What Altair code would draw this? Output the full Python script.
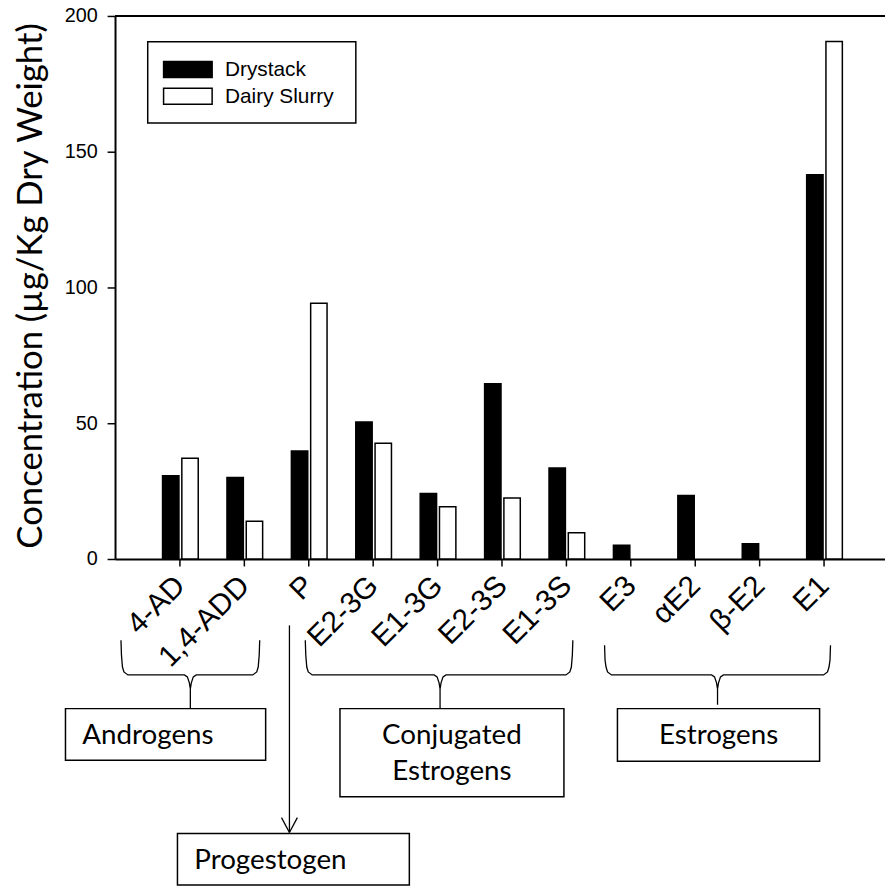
import altair as alt
import pandas as pd

# ---------------- data ----------------
categories = ["4-AD", "1,4-ADD", "P", "E2-3G", "E1-3G", "E2-3S", "E1-3S",
              "E3", "αE2", "β-E2", "E1"]
series = ["Drystack", "Dairy Slurry"]
drystack = [30.7, 30.0, 39.8, 50.5, 24.1, 64.5, 33.5, 5.1, 23.4, 5.6, 141.5]
dairy_slurry = [37.1, 13.9, 94.2, 42.6, 19.2, 22.5, 9.7, 0, 0, 0, 190.6]
y_ticks = [0, 50, 100, 150, 200]
y_title = "Concentration (µg/Kg Dry Weight)"
group_labels = ["Androgens", "Conjugated", "Estrogens", "Estrogens", "Progestogen"]

rows = []
for i, c in enumerate(categories):
    rows.append({"cat": c, "series": series[0], "value": drystack[i]})
    rows.append({"cat": c, "series": series[1], "value": dairy_slurry[i]})
df = pd.DataFrame(rows)

W, H = 777, 548
color_scale = alt.Scale(domain=series, range=["#000000", "#ffffff"])

bars = alt.Chart(df).transform_filter("datum.value > 0").mark_bar(
    stroke="black", strokeWidth=1.5).encode(
    x=alt.X("cat:N", sort=categories,
            scale=alt.Scale(paddingInner=0.446, paddingOuter=0.7, align=0.527),
            axis=alt.Axis(title=None, labelAngle=-45, labelAlign="right",
                          labelBaseline="middle", labelFont="Liberation Sans",
                          labelFontSize=30, labelColor="black", labelPadding=15,
                          labelOverlap=False, labelBound=False,
                          tickSize=7, tickColor="black", tickWidth=1.5,
                          domainColor="black", domainWidth=2)),
    xOffset=alt.XOffset("series:N", sort=series, scale=alt.Scale(paddingInner=0.15)),
    y=alt.Y("value:Q", scale=alt.Scale(domain=[0, 200], nice=False),
            axis=alt.Axis(values=y_ticks, title=y_title, titleFont="Lato",
                          titleFontSize=35, titleFontWeight="normal", titleColor="black",
                          titleAngle=270, titleX=-74, titleY=272, titleAlign="center",
                          titleBaseline="alphabetic",
                          labelFont="Liberation Sans", labelFontSize=20, labelColor="black",
                          labelPadding=10, tickSize=8, tickWidth=1.5, tickColor="black",
                          domainColor="black", domainWidth=2, grid=False)),
    color=alt.Color("series:N", scale=color_scale, legend=None),
)

# top frame line
top_rule = alt.Chart(pd.DataFrame({"a": [0]})).mark_rule(color="black", strokeWidth=2).encode(
    x=alt.value(0), x2=alt.value(790), y=alt.value(0))

# ---------------- legend (manual) ----------------
leg_box = alt.Chart(pd.DataFrame({"x": [33], "x2": [243], "y": [26], "y2": [108]})).mark_rect(
    fill="white", stroke="black", strokeWidth=1.5).encode(
    x=alt.X("x:Q", scale=None), x2="x2:Q", y=alt.Y("y:Q", scale=None), y2="y2:Q")

leg_df = pd.DataFrame({"series": series, "idx": list(range(len(series)))})
leg_sym = alt.Chart(leg_df).transform_calculate(
    sx="49", sx2="98", sy="46 + 27*datum.idx", sy2="62 + 27*datum.idx"
).mark_rect(stroke="black", strokeWidth=1.5).encode(
    x=alt.X("sx:Q", scale=None), x2="sx2:Q", y=alt.Y("sy:Q", scale=None), y2="sy2:Q",
    color=alt.Color("series:N", scale=color_scale, legend=None))
leg_txt = alt.Chart(leg_df).transform_calculate(
    tx="111", ty="61 + 27*datum.idx"
).mark_text(align="left", baseline="alphabetic", font="Liberation Sans", fontSize=21,
            color="black").encode(
    x=alt.X("tx:Q", scale=None), y=alt.Y("ty:Q", scale=None), text="series:N")

# ---------------- annotations: braces, boxes, arrow, labels ----------------
def brace(xl, xr, xc, top, mid, bottom):
    return [(xl, top), (xl + 0.5, top + 15), (xl + 1.5, mid - 8), (xl + 3, mid - 3),
            (xl + 7, mid), (xc - 6, mid), (xc - 3, mid + 2), (xc - 1, mid + 8),
            (xc, mid + 14), (xc, bottom), (xc, mid + 14), (xc + 1, mid + 8),
            (xc + 3, mid + 2), (xc + 6, mid), (xr - 7, mid), (xr - 3, mid - 3),
            (xr - 1.5, mid - 8), (xr - 0.5, top + 15), (xr, top)]

brace_specs = [(6, 146, 76, 630, 665, 699),
               (192, 462, 328, 630, 665, 699),
               (494, 722, 608, 635, 665, 695)]
brows = []
for b, spec in enumerate(brace_specs):
    for k, (px, py) in enumerate(brace(*spec)):
        brows.append({"b": b, "k": k, "px": px, "py": py})
braces = alt.Chart(pd.DataFrame(brows)).mark_line(color="black", strokeWidth=1.3).encode(
    x=alt.X("px:Q", scale=None), y=alt.Y("py:Q", scale=None),
    detail="b:N", order="k:Q")

box_df = pd.DataFrame({"x": [-50, 227, 507, 63], "y": [699, 699, 699, 825],
                       "x2": [152, 453, 711, 297], "y2": [751, 788, 752, 877]})
boxes = alt.Chart(box_df).mark_rect(fill="white", stroke="black", strokeWidth=1.5).encode(
    x=alt.X("x:Q", scale=None), x2="x2:Q", y=alt.Y("y:Q", scale=None), y2="y2:Q")

arrow_df = pd.DataFrame({"x": [176, 168, 184], "y": [615, 809, 809],
                         "x2": [176, 176, 176], "y2": [824, 824, 824]})
arrow = alt.Chart(arrow_df).mark_rule(color="black", strokeWidth=1.3).encode(
    x=alt.X("x:Q", scale=None), x2="x2:Q", y=alt.Y("y:Q", scale=None), y2="y2:Q")

txt_left = alt.Chart(pd.DataFrame({"t": [group_labels[0], group_labels[4]],
                                   "x": [-33, 80], "y": [735, 861]})).mark_text(
    align="left", baseline="alphabetic", font="Lato", fontSize=28, color="black").encode(
    x=alt.X("x:Q", scale=None), y=alt.Y("y:Q", scale=None), text="t:N")
txt_center = alt.Chart(pd.DataFrame({"t": [group_labels[1], group_labels[2], group_labels[3]],
                                     "x": [340, 340, 609], "y": [735, 771, 735]})).mark_text(
    align="center", baseline="alphabetic", font="Lato", fontSize=28, color="black").encode(
    x=alt.X("x:Q", scale=None), y=alt.Y("y:Q", scale=None), text="t:N")

chart = alt.layer(
    bars, top_rule, leg_box, leg_sym, leg_txt, braces, boxes, arrow, txt_left, txt_center
).resolve_scale(x="independent", y="independent").properties(
    width=W, height=H,
    autosize=alt.AutoSizeParams(type="none"),
    padding={"left": 108, "top": 4, "right": 0, "bottom": 330},
).configure_view(stroke=None).configure(background="white")

chart.save("out.html", embed_options={"renderer": "svg", "actions": False})
